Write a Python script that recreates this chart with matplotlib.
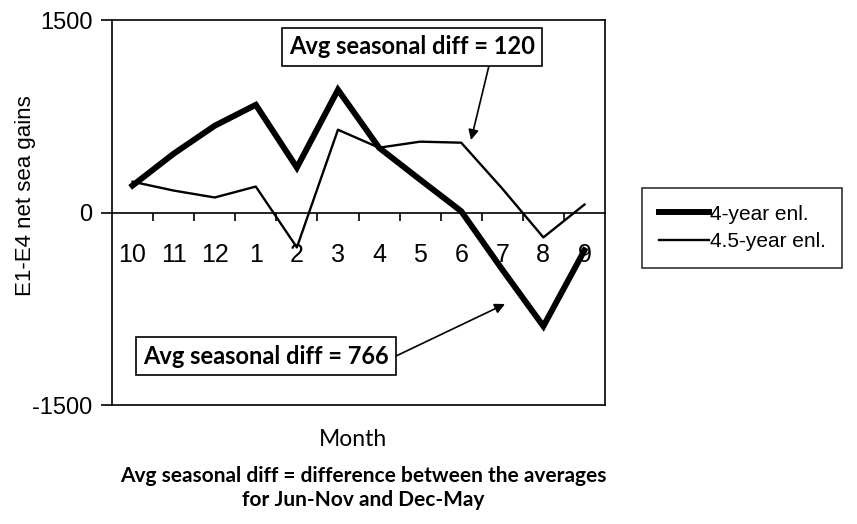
import matplotlib
matplotlib.use("Agg")
import matplotlib.pyplot as plt

months = ["10", "11", "12", "1", "2", "3", "4", "5", "6", "7", "8", "9"]
four_year = [210, 458, 676, 839, 350, 956, 505, 256, 10, -445, -886, -295]
four_half_year = [240, 171, 117, 202, -272, 645, 505, 552, 544, 186, -194, 62]
y_ticks = [-1500, 0, 1500]

humanist = ["Lato", "DejaVu Sans"]

fig = plt.figure(figsize=(8.57, 5.24), dpi=100)
ax = fig.add_axes([112 / 857, 1 - 405 / 524, 493 / 857, 385 / 524])

x = list(range(len(months)))
ax.plot(x, four_year, color="black", lw=4.3, solid_joinstyle="miter", label="4-year enl.")
ax.plot(x, four_half_year, color="black", lw=1.7, label="4.5-year enl.")

ax.set_xlim(-0.5, len(months) - 0.5)
ax.set_ylim(-1500, 1500)

# x axis sits on the zero line, the frame stays closed
for s in ["top", "left", "right"]:
    ax.spines[s].set_linewidth(1.2)
ax.spines["bottom"].set_position(("data", 0))
ax.spines["bottom"].set_linewidth(1.2)
ax.plot([0, 1], [0, 0], transform=ax.transAxes, color="black", lw=1.2, clip_on=False)

ax.set_xticks(x)
ax.set_xticklabels(months, fontfamily="Liberation Sans", fontsize=18)
ax.set_xticks([i + 0.5 for i in x[:-1]], minor=True)
ax.tick_params(axis="x", which="major", length=0, pad=22)
ax.tick_params(axis="x", which="minor", direction="out", length=6, width=1.2)

ax.set_yticks(y_ticks)
ax.set_yticklabels([str(v) for v in y_ticks], fontfamily="Liberation Sans", fontsize=17)
ax.tick_params(axis="y", direction="out", length=8, width=1.2, pad=6)
ax.set_ylabel("E1-E4 net sea gains", fontfamily="Liberation Sans", fontsize=16)
ax.yaxis.set_label_coords(-0.155, 0.543)

box = dict(boxstyle="square,pad=0.3", fc="white", ec="black", lw=1.2)
arrow = dict(arrowstyle="-|>", color="black", lw=1.2, mutation_scale=15, shrinkA=0, shrinkB=0)

ax.annotate("Avg seasonal diff = 120", xy=(471, 524 - 140), xycoords="figure pixels",
            xytext=(412, 524 - 47), textcoords="figure pixels",
            ha="center", va="center", fontsize=17, fontweight="bold", family=humanist,
            bbox=box, arrowprops=dict(arrow, relpos=(0.82, 0.0)))
ax.annotate("Avg seasonal diff = 766", xy=(505, 524 - 304), xycoords="figure pixels",
            xytext=(266, 524 - 356), textcoords="figure pixels",
            ha="center", va="center", fontsize=17, fontweight="bold", family=humanist,
            bbox=box, arrowprops=dict(arrow, relpos=(1.0, 0.35)))

leg = fig.legend(loc="upper left", bbox_to_anchor=(642 / 857, 1 - 188 / 524),
                 frameon=True, fancybox=False, edgecolor="black",
                 prop={"family": "Liberation Sans", "size": 15},
                 handlelength=2.4, handletextpad=0.05, borderpad=0.8, labelspacing=0.4,
                 borderaxespad=0)
leg.get_frame().set_linewidth(1.2)

fig.text(353 / 857, 1 - 440 / 524, "Month", ha="center", va="center",
         fontsize=16.5, family=humanist)
fig.text(363 / 857, 1 - 488 / 524,
         "Avg seasonal diff = difference between the averages\nfor Jun-Nov and Dec-May",
         ha="center", va="center", fontsize=15, fontweight="bold", family=humanist,
         linespacing=1.25)

fig.savefig("out.png", dpi=100)
